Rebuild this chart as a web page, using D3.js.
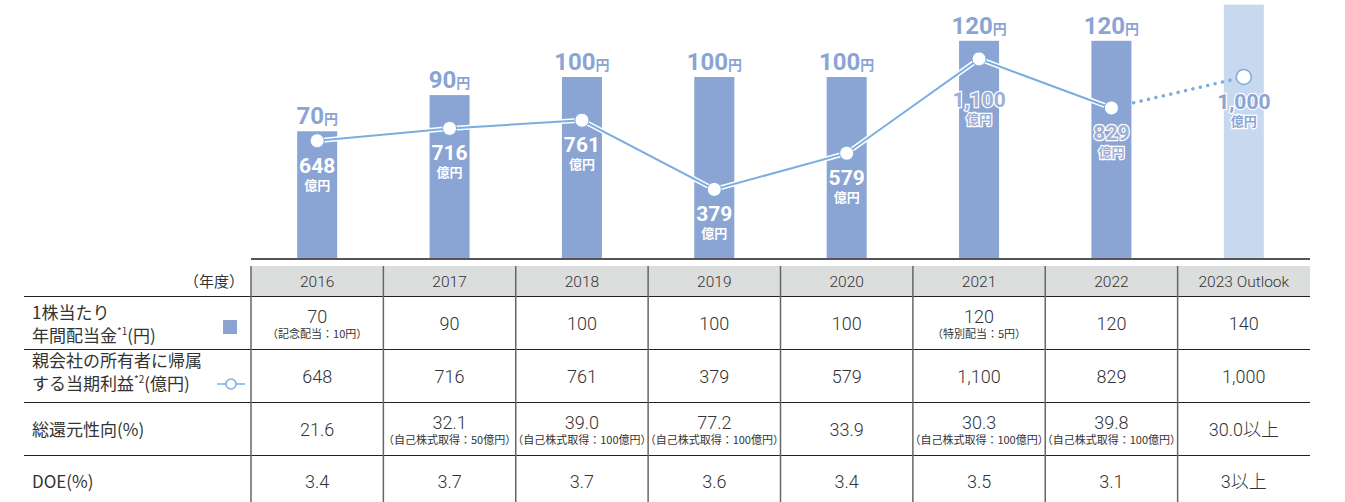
<!DOCTYPE html>
<html>
<head>
<meta charset="utf-8">
<script src="https://cdn.jsdelivr.net/npm/d3@7"></script>
<style>
  body { margin: 0; background: #fff; }
  svg text { font-family: Roboto, "Noto Sans CJK JP", sans-serif; }
  .jp { font-family: "Noto Sans CJK JP", sans-serif; }
</style>
</head>
<body>
<div id="main"></div>
<script>
// data
var years = ["2016", "2017", "2018", "2019", "2020", "2021", "2022", "2023 Outlook"];
var dividend = [70, 90, 100, 100, 100, 120, 120, 140];
var profit = [648, 716, 761, 379, 579, 1100, 829, 1000];
var dividendNotes = ["（記念配当：10円）", "", "", "", "", "（特別配当：5円）", "", ""];
var payoutRatio = ["21.6", "32.1", "39.0", "77.2", "33.9", "30.3", "39.8", "30.0以上"];
var payoutNotes = ["", "（自己株式取得：50億円）", "（自己株式取得：100億円）", "（自己株式取得：100億円）", "", "（自己株式取得：100億円）", "（自己株式取得：100億円）", ""];
var doe = ["3.4", "3.7", "3.7", "3.6", "3.4", "3.5", "3.1", "3以上"];

var width = 1345, height = 502;
var barColor = "#8aa4d4", outlookColor = "#c6d9ef", lineColor = "#7aaee0", textColor = "#333";

var svg = d3.select("#main").append("svg")
    .attr("width", width)
    .attr("height", height);

var x = d3.scaleBand().domain(years).range([251, 1310]);
var base = 258;
var yDiv = d3.scaleLinear().domain([0, 100]).range([base, base - 181]);
var yProfit = d3.scaleLinear().domain([0, 1000]).range([base, base - 181]);
var barW = 40;
var cx = function (d) { return x(d) + x.bandwidth() / 2; };

// bars
svg.selectAll(".bar")
    .data(dividend)
    .enter().append("rect")
    .attr("class", "bar")
    .attr("x", function (d, i) { return cx(years[i]) - barW / 2; })
    .attr("y", function (d) { return yDiv(d); })
    .attr("width", barW)
    .attr("height", function (d) { return base - yDiv(d); })
    .attr("fill", function (d, i) { return i == years.length - 1 ? outlookColor : barColor; });

// baseline
svg.append("line")
    .attr("x1", 251).attr("x2", 1310)
    .attr("y1", base + 1).attr("y2", base + 1)
    .attr("stroke", "#555").attr("stroke-width", 2);

// dividend labels (not for outlook)
var divLab = svg.selectAll(".divLab")
    .data(dividend.slice(0, 7))
    .enter().append("text")
    .attr("x", function (d, i) { return cx(years[i]); })
    .attr("y", function (d) { return yDiv(d) - 7; })
    .attr("text-anchor", "middle")
    .attr("fill", barColor)
    .attr("font-weight", 700);
divLab.append("tspan").attr("font-size", 24).text(function (d) { return d; });
divLab.append("tspan").attr("class", "jp").attr("font-size", 14).text("円");

// profit line
var pts = profit.map(function (v, i) { return [cx(years[i]), yProfit(v)]; });
var line = d3.line();
svg.append("path")
    .attr("d", line(pts.slice(0, 7)))
    .attr("fill", "none").attr("stroke", "#fff").attr("stroke-width", 5);
svg.append("path")
    .attr("d", line(pts.slice(0, 7)))
    .attr("fill", "none").attr("stroke", lineColor).attr("stroke-width", 2);
svg.append("path")
    .attr("d", line(pts.slice(6)))
    .attr("fill", "none").attr("stroke", lineColor).attr("stroke-width", 3.5)
    .attr("stroke-linecap", "round").attr("stroke-dasharray", "0.1 7.5");

svg.selectAll(".pt")
    .data(profit)
    .enter().append("circle")
    .attr("cx", function (d, i) { return cx(years[i]); })
    .attr("cy", function (d) { return yProfit(d); })
    .attr("r", function (d, i) { return i == 7 ? 7.5 : 7; })
    .attr("fill", "#fff")
    .attr("stroke", lineColor)
    .attr("stroke-width", function (d, i) { return i == 7 ? 1.5 : 1; });

// profit labels
var fmt = d3.format(",");
var profLab = svg.selectAll(".profLab")
    .data(profit)
    .enter().append("g")
    .attr("transform", function (d, i) {
        var off = i == 5 ? 48 : 32;
        return "translate(" + cx(years[i]) + "," + (yProfit(d) + off) + ")";
    });
profLab.each(function (d, i) {
    var g = d3.select(this);
    var outlined = i >= 5;
    var fill = outlined ? (i == 7 ? barColor : "#9db0d8") : "#fff";
    g.append("text")
        .attr("text-anchor", "middle")
        .attr("font-size", 21).attr("font-weight", 700)
        .attr("fill", fill)
        .attr("stroke", outlined ? "#fff" : "none")
        .attr("stroke-width", outlined ? 2.5 : 0)
        .attr("paint-order", "stroke")
        .text(fmt(d));
    g.append("text")
        .attr("class", "jp")
        .attr("y", 17)
        .attr("text-anchor", "middle")
        .attr("font-size", 13).attr("font-weight", 700)
        .attr("fill", fill)
        .attr("stroke", outlined ? "#fff" : "none")
        .attr("stroke-width", outlined ? 2.5 : 0)
        .attr("paint-order", "stroke")
        .text("億円");
});

/*
    Table
*/
var rowTop = [266, 296, 349, 402, 455, 502];

svg.append("rect")
    .attr("x", 251).attr("y", rowTop[0])
    .attr("width", 1310 - 251).attr("height", rowTop[1] - rowTop[0])
    .attr("fill", "#dcdddd");

// horizontal rules
svg.selectAll(".hrule")
    .data(rowTop.slice(1, 5))
    .enter().append("line")
    .attr("x1", 24).attr("x2", 1310)
    .attr("y1", function (d) { return d + 0.5; })
    .attr("y2", function (d) { return d + 0.5; })
    .attr("stroke", "#222").attr("stroke-width", 1.2);

// vertical rules
var vx = years.map(function (d) { return x(d); });
svg.selectAll(".vrule")
    .data(vx)
    .enter().append("line")
    .attr("x1", function (d) { return d; }).attr("x2", function (d) { return d; })
    .attr("y1", rowTop[0]).attr("y2", height)
    .attr("stroke", "#666").attr("stroke-width", 1.5);

// header
svg.selectAll(".yearLab")
    .data(years)
    .enter().append("text")
    .attr("x", function (d) { return cx(d); })
    .attr("y", 287)
    .attr("text-anchor", "middle")
    .attr("font-size", 15.5)
    .attr("font-weight", 300)
    .attr("fill", textColor)
    .text(function (d) { return d; });

svg.append("text")
    .attr("class", "jp")
    .attr("x", 244).attr("y", 287)
    .attr("text-anchor", "end")
    .attr("font-size", 15)
    .attr("fill", textColor)
    .text("（年度）");

function cellRow(values, notes, midY) {
    values.forEach(function (v, i) {
        var hasNote = notes && notes[i];
        svg.append("text")
            .attr("x", cx(years[i]))
            .attr("y", hasNote ? midY + 1 : midY + 8)
            .attr("text-anchor", "middle")
            .attr("font-size", 18)
            .attr("font-weight", 300)
            .attr("fill", textColor)
            .text(v);
        if (hasNote) {
            svg.append("text")
                .attr("class", "jp")
                .attr("x", cx(years[i]))
                .attr("y", midY + 16)
                .attr("text-anchor", "middle")
                .attr("font-size", 11)
                .attr("fill", textColor)
                .text(notes[i]);
        }
    });
}
cellRow(dividend.map(String), dividendNotes, 322);
cellRow(profit.map(fmt), null, 375);
cellRow(payoutRatio, payoutNotes, 428);
cellRow(doe, null, 480);

// row headers
function rowLabel(lines, yy) {
    lines.forEach(function (l, k) {
        var t = svg.append("text")
            .attr("class", "jp")
            .attr("x", 32).attr("y", yy[k])
            .attr("font-size", 17)
            .attr("fill", textColor);
        l.forEach(function (part) {
            var s = t.append("tspan").text(part.t);
            if (part.sup) s.attr("font-size", 10).attr("baseline-shift", "7");
        });
    });
}
rowLabel([[{ t: "1株当たり" }], [{ t: "年間配当金" }, { t: "*1", sup: true }, { t: "(円)" }]], [319, 342]);
rowLabel([[{ t: "親会社の所有者に帰属" }], [{ t: "する当期利益" }, { t: "*2", sup: true }, { t: "(億円)" }]], [367, 390]);
rowLabel([[{ t: "総還元性向(%)" }]], [436]);
rowLabel([[{ t: "DOE(%)" }]], [488]);

// legend marks
svg.append("rect")
    .attr("x", 223).attr("y", 320).attr("width", 14).attr("height", 14)
    .attr("fill", barColor);
svg.append("line")
    .attr("x1", 217).attr("x2", 245).attr("y1", 384).attr("y2", 384)
    .attr("stroke", lineColor).attr("stroke-width", 1.5);
svg.append("circle")
    .attr("cx", 231).attr("cy", 384).attr("r", 5)
    .attr("fill", "#fff").attr("stroke", lineColor).attr("stroke-width", 1.5);
</script>
</body>
</html>
